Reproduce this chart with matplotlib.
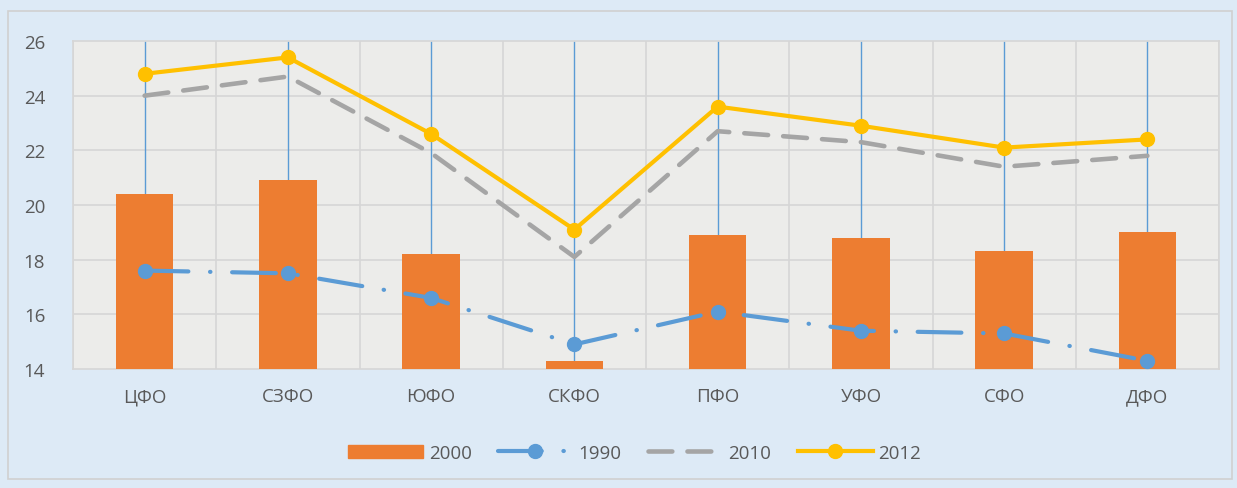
import numpy as np
import matplotlib.pyplot as plt
from matplotlib.lines import Line2D
from matplotlib.patches import Patch

# Data
regions = ['ЦФО', 'СЗФО', 'ЮФО', 'СКФО', 'ПФО', 'УФО', 'СФО', 'ДФО']
y2000 = [20.4, 20.9, 18.2, 14.3, 18.9, 18.8, 18.3, 19.0]
y1990 = [17.6, 17.5, 16.6, 14.9, 16.1, 15.4, 15.3, 14.3]
y2010 = [24.0, 24.7, 21.9, 18.1, 22.7, 22.3, 21.4, 21.8]
y2012 = [24.8, 25.4, 22.6, 19.1, 23.6, 22.9, 22.1, 22.4]

c_bar = '#ED7D31'
c_blue = '#5B9BD5'
c_gray = '#A5A5A5'
c_gold = '#FFC000'
c_text = '#595959'

plt.rcParams['font.family'] = ['Open Sans', 'DejaVu Sans']

fig = plt.figure(figsize=(12.37, 4.89), dpi=100)
fig.patch.set_facecolor('#DDEAF6')
ax = fig.add_axes([73/1237, 1-370/489, (1219-73)/1237, (370-42)/489])
ax.set_facecolor('#ECECEA')

x = np.arange(len(regions))
ax.set_xlim(-0.5, len(regions)-0.5)
ax.set_ylim(14, 26)

# grid
for b in np.arange(-0.5, len(regions), 1):
    ax.axvline(b, color='#D6D6D6', lw=1.2, zorder=1)
for yy in range(16, 26, 2):
    ax.axhline(yy, color='#D6D6D6', lw=1.2, zorder=1)

# thin blue drop lines
ax.vlines(x, 14, 26, color=c_blue, lw=1.0, zorder=2)

ax.bar(x, [v-14 for v in y2000], bottom=14, width=0.4, color=c_bar, zorder=3)

dashdot = (0, (10.5, 5.2, 0.1, 5.2))
dashed = (0, (5.2, 3.3))
ax.plot(x, y1990, color=c_blue, lw=3, linestyle=dashdot, dash_capstyle='round',
        marker='o', ms=10, zorder=4)
ax.plot(x, y2010, color=c_gray, lw=3.3, linestyle=dashed, dash_capstyle='round', zorder=4)
ax.plot(x, y2012, color=c_gold, lw=3, marker='o', ms=10, zorder=5)

ax.set_yticks(range(14, 27, 2))
ax.set_xticks(x)
ax.set_xticklabels(regions)
ax.tick_params(length=0, labelsize=13.5, labelcolor=c_text)
ax.tick_params(axis='y', pad=20)
ax.tick_params(axis='x', pad=13)
for s in ax.spines.values():
    s.set_color('#D6D6D6')
    s.set_linewidth(1.2)

handles = [
    Patch(color=c_bar, label='2000'),
    Line2D([], [], color=c_blue, lw=3, linestyle=(0, (10.5, 5.2, 0.1, 5.2)),
           dash_capstyle='round', marker='o', ms=10, markevery=[0], label='1990'),
    Line2D([], [], color=c_gray, lw=3.3, linestyle=dashed, dash_capstyle='round', label='2010'),
    Line2D([], [], color=c_gold, lw=3, marker='o', ms=10, label='2012'),
]
fig.legend(handles=handles, loc='center', bbox_to_anchor=(0.513, 1-454/489), ncol=4,
           frameon=False, fontsize=13.5, labelcolor=c_text, handlelength=4.0,
           columnspacing=1.4, handletextpad=0.3)

# outer frame
fig.patches.append(plt.Rectangle((8/1237, 1-480/489), 1224/1237, 468/489,
                                 transform=fig.transFigure, fill=False,
                                 edgecolor='#D0D0D0', lw=1.2))

fig.savefig('out.png', dpi=100, facecolor=fig.get_facecolor())
